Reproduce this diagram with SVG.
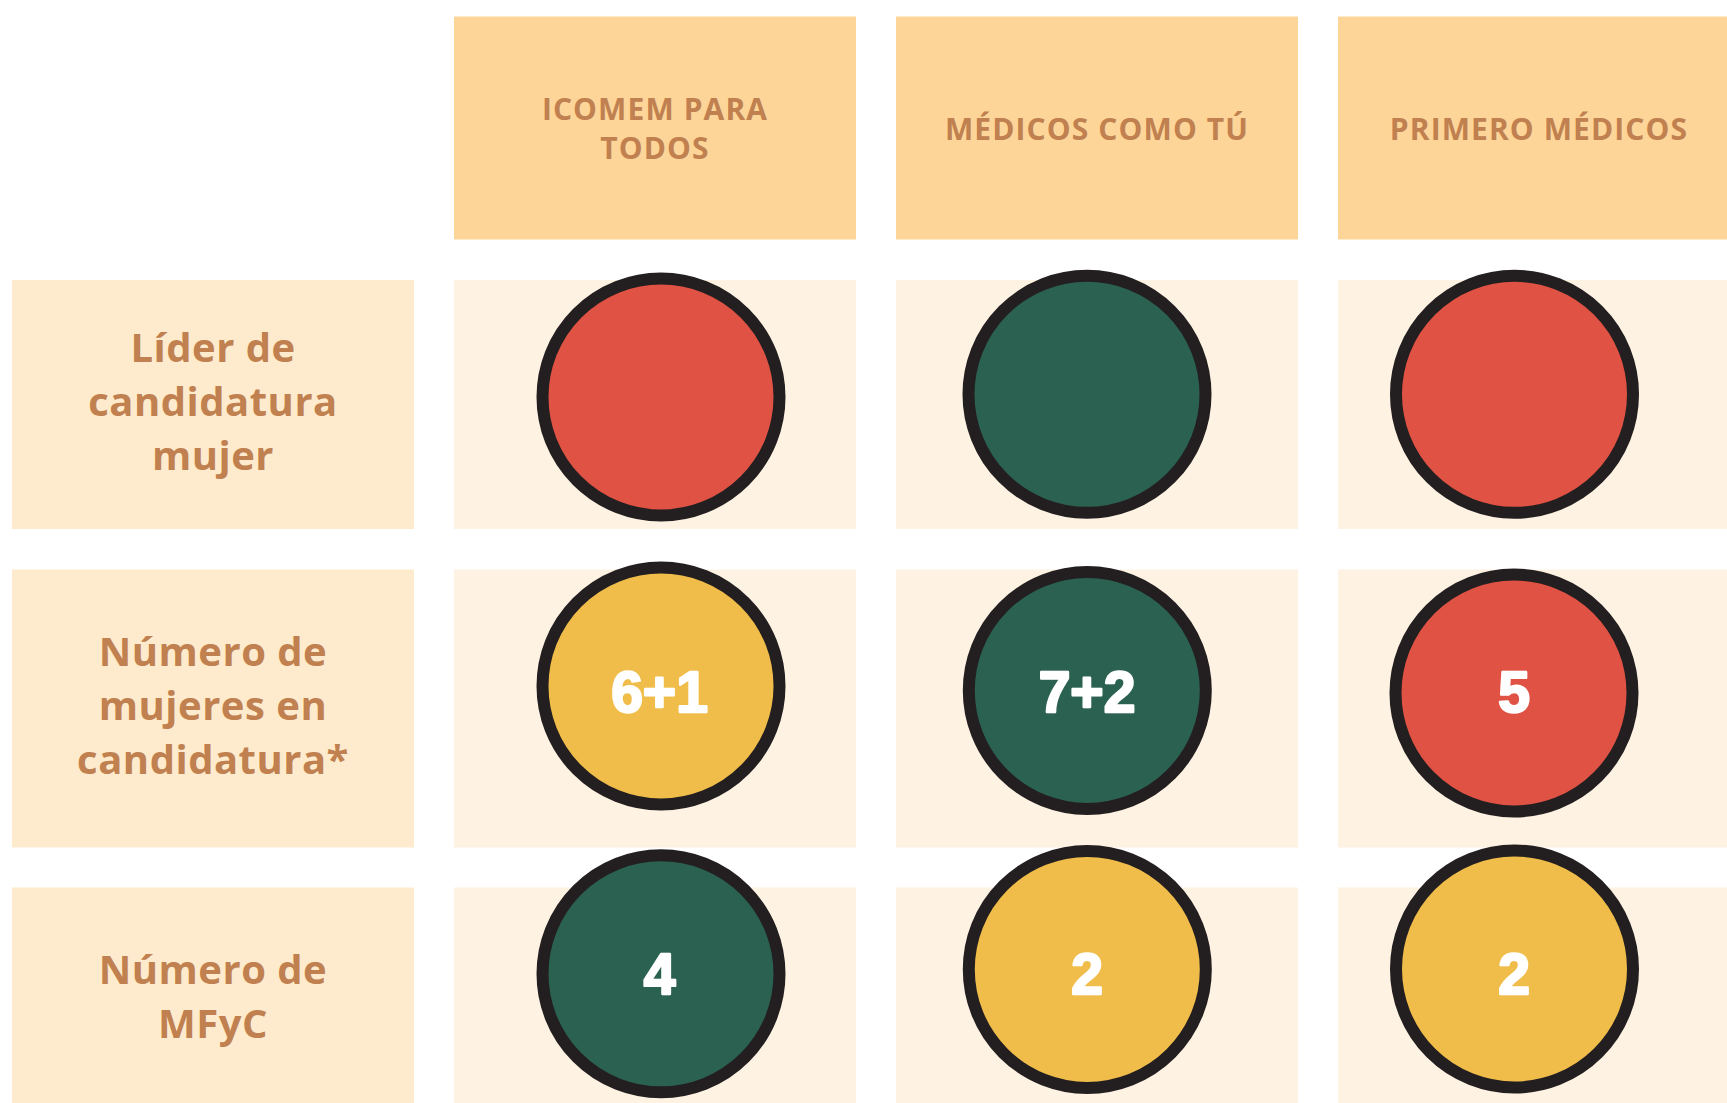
<svg xmlns="http://www.w3.org/2000/svg" width="1727" height="1103" viewBox="0 0 1727 1103">
<style>
.hdr{fill:#FDD599}
.lbl{fill:#FEEBCD}
.cell{fill:#FEF2E2}
.ht{font-family:"Open Sans","Liberation Sans",sans-serif;font-weight:700;font-size:30px;letter-spacing:1.1px;fill:#C0804F;text-anchor:middle}
.lt{font-family:"Open Sans","Liberation Sans",sans-serif;font-weight:700;font-size:40px;letter-spacing:0.5px;fill:#C0804F;text-anchor:middle}
.dot{stroke:#231F20;stroke-width:12}
.red{fill:#E05243}
.green{fill:#2B6150}
.yellow{fill:#F0BD4A}
.num{font-family:"Liberation Sans",Arial,sans-serif;font-weight:700;font-size:57px;fill:#FFFFFF;stroke:#FFFFFF;stroke-width:2.4;stroke-linejoin:round;text-anchor:middle}
</style>
<rect width="1727" height="1103" fill="#FFFFFF"/>

<g id="header-icomem">
<rect class="hdr" x="454" y="16.5" width="402" height="223"/>
<text class="ht" x="655" y="119.5">ICOMEM PARA</text>
<text class="ht" x="655" y="159">TODOS</text>
</g>
<g id="header-medicos-como-tu">
<rect class="hdr" x="896" y="16.5" width="402" height="223"/>
<text class="ht" x="1097" y="139.5">MÉDICOS COMO TÚ</text>
</g>
<g id="header-primero-medicos">
<rect class="hdr" x="1338" y="16.5" width="402" height="223"/>
<text class="ht" x="1539" y="139.5">PRIMERO MÉDICOS</text>
</g>

<g id="label-lider">
<rect class="lbl" x="12" y="280" width="402" height="249"/>
<text class="lt" x="213" y="362">Líder de</text>
<text class="lt" x="213" y="416">candidatura</text>
<text class="lt" x="213" y="470">mujer</text>
</g>
<g id="label-numero-mujeres">
<rect class="lbl" x="12" y="569.5" width="402" height="278"/>
<text class="lt" x="213" y="666">Número de</text>
<text class="lt" x="213" y="720">mujeres en</text>
<text class="lt" x="213" y="774">candidatura*</text>
</g>
<g id="label-mfyc">
<rect class="lbl" x="12" y="887.5" width="402" height="230"/>
<text class="lt" x="213" y="984">Número de</text>
<text class="lt" x="213" y="1038">MFyC</text>
</g>

<g id="cells">
<rect class="cell" x="454" y="280" width="402" height="249"/>
<rect class="cell" x="896" y="280" width="402" height="249"/>
<rect class="cell" x="1338" y="280" width="402" height="249"/>
<rect class="cell" x="454" y="569.5" width="402" height="278"/>
<rect class="cell" x="896" y="569.5" width="402" height="278"/>
<rect class="cell" x="1338" y="569.5" width="402" height="278"/>
<rect class="cell" x="454" y="887.5" width="402" height="230"/>
<rect class="cell" x="896" y="887.5" width="402" height="230"/>
<rect class="cell" x="1338" y="887.5" width="402" height="230"/>
</g>

<g id="r1c1"><circle class="dot red" cx="661" cy="397" r="118.5"/></g>
<g id="r1c2"><circle class="dot green" cx="1087" cy="394.3" r="118.5"/></g>
<g id="r1c3"><circle class="dot red" cx="1514.5" cy="394.3" r="118.5"/></g>

<g id="r2c1"><circle class="dot yellow" cx="661" cy="686" r="118.5"/><text class="num" x="659.5" y="711.5">6+1</text></g>
<g id="r2c2"><circle class="dot green" cx="1087.3" cy="690.5" r="118.5"/><text class="num" x="1087" y="711.5">7+2</text></g>
<g id="r2c3"><circle class="dot red" cx="1514" cy="693" r="118.5"/><text class="num" x="1514" y="711.5">5</text></g>

<g id="r3c1"><circle class="dot green" cx="661" cy="973.8" r="118.5"/><text class="num" x="659.5" y="994">4</text></g>
<g id="r3c2"><circle class="dot yellow" cx="1087.3" cy="969.4" r="118.5"/><text class="num" x="1087" y="994">2</text></g>
<g id="r3c3"><circle class="dot yellow" cx="1514.5" cy="969" r="118.5"/><text class="num" x="1514" y="994">2</text></g>

<g id="connectors"/>
</svg>
